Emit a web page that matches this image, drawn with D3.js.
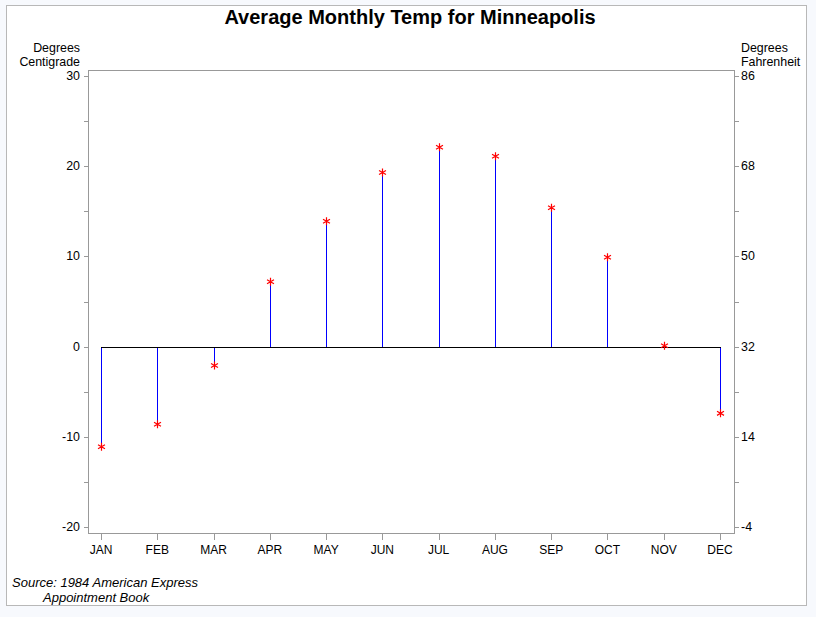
<!DOCTYPE html>
<html><head><meta charset="utf-8">
<script src="https://cdn.jsdelivr.net/npm/d3@7"></script>
<style>
html,body{margin:0;padding:0;background:#f7f9fd;}
svg{display:block;font-family:Arial,"Liberation Sans",sans-serif;}
</style></head>
<body><svg id="c" width="816" height="617"></svg>
<script>
const months = ["JAN","FEB","MAR","APR","MAY","JUN","JUL","AUG","SEP","OCT","NOV","DEC"];
const tempC = [-11.1,-8.6,-2.1,7.2,13.9,19.3,22.1,21.1,15.4,9.9,0.1,-7.4];
const leftTicks = [-20,-10,0,10,20,30];
const rightTicks = [-4,14,32,50,68,86];
const minorC = [-15,-5,5,15,25];
const title = "Average Monthly Temp for Minneapolis";
const footnote = ["Source: 1984 American Express","Appointment Book"];

const svg = d3.select("#c");
svg.append("rect").attr("x",6.5).attr("y",5.5).attr("width",800).attr("height",600)
  .attr("fill","#fff").attr("stroke","#b8b8b8").attr("stroke-width",1);

const L=88, R=734, T=70, B=533;
const y = d3.scaleLinear().domain([-20,30]).range([527,76]);
const yF = d3.scaleLinear().domain([-4,86]).range([527,76]);
const x = d3.scaleLinear().domain([0,11]).range([101,720]);

svg.append("text").attr("x",410).attr("y",24).attr("text-anchor","middle")
  .attr("font-size",20).attr("font-weight","bold").text(title);

// frame
svg.append("rect").attr("x",L+0.5).attr("y",T+0.5).attr("width",R-L).attr("height",B-T)
  .attr("fill","none").attr("stroke","#999");

const grey="#999";
const fs=12.4;
// left axis
const la = svg.append("g");
leftTicks.forEach(v=>{
  la.append("line").attr("x1",L-4).attr("x2",L).attr("y1",Math.round(y(v))+0.5).attr("y2",Math.round(y(v))+0.5).attr("stroke",grey);
  la.append("text").attr("x",80).attr("y",y(v)+4).attr("text-anchor","end").attr("font-size",fs).text(v);
});
minorC.forEach(v=>{
  la.append("line").attr("x1",L-4).attr("x2",L).attr("y1",Math.round(y(v))+0.5).attr("y2",Math.round(y(v))+0.5).attr("stroke",grey);
  svg.append("line").attr("x1",R+1).attr("x2",R+5).attr("y1",Math.round(y(v))+0.5).attr("y2",Math.round(y(v))+0.5).attr("stroke",grey);
});
rightTicks.forEach(v=>{
  svg.append("line").attr("x1",R+1).attr("x2",R+5).attr("y1",Math.round(yF(v))+0.5).attr("y2",Math.round(yF(v))+0.5).attr("stroke",grey);
  svg.append("text").attr("x",741).attr("y",yF(v)+4).attr("text-anchor","start").attr("font-size",fs).text(v);
});
svg.append("text").attr("x",80).attr("y",52).attr("text-anchor","end").attr("font-size",fs).text("Degrees");
svg.append("text").attr("x",80).attr("y",66).attr("text-anchor","end").attr("font-size",fs).text("Centigrade");
svg.append("text").attr("x",741).attr("y",52).attr("font-size",fs).text("Degrees");
svg.append("text").attr("x",741).attr("y",66).attr("font-size",fs).text("Fahrenheit");

// bottom axis
months.forEach((m,i)=>{
  svg.append("line").attr("x1",Math.round(x(i))+0.5).attr("x2",Math.round(x(i))+0.5).attr("y1",B+1).attr("y2",B+7).attr("stroke",grey);
  svg.append("text").attr("x",x(i)).attr("y",554).attr("text-anchor","middle").attr("font-size",12).text(m);
});

// needles
svg.selectAll("line.n").data(tempC).enter().append("line").attr("class","n")
  .attr("x1",(d,i)=>Math.round(x(i))+0.5).attr("x2",(d,i)=>Math.round(x(i))+0.5)
  .attr("y1",Math.round(y(0))+0.5).attr("y2",d=>y(d)).attr("stroke","#0000ff").attr("stroke-width",1);
// baseline
svg.append("line").attr("x1",x(0)).attr("x2",x(11)+1).attr("y1",Math.round(y(0))+0.5).attr("y2",Math.round(y(0))+0.5)
  .attr("stroke","#000").attr("stroke-width",1);
// markers
const sym = d3.symbol().type(d3.symbolAsterisk).size(45);
svg.selectAll("path.m").data(tempC).enter().append("path").attr("class","m")
  .attr("d",sym).attr("transform",(d,i)=>`translate(${Math.round(x(i))+0.5},${y(d)})`)
  .attr("fill","none").attr("stroke","#ff0000").attr("stroke-width",1.2);

// footnote
svg.append("text").attr("x",12).attr("y",587).attr("font-size",13).attr("font-style","italic").text(footnote[0]);
svg.append("text").attr("x",43).attr("y",602).attr("font-size",13).attr("font-style","italic").text(footnote[1]);
</script></body></html>
